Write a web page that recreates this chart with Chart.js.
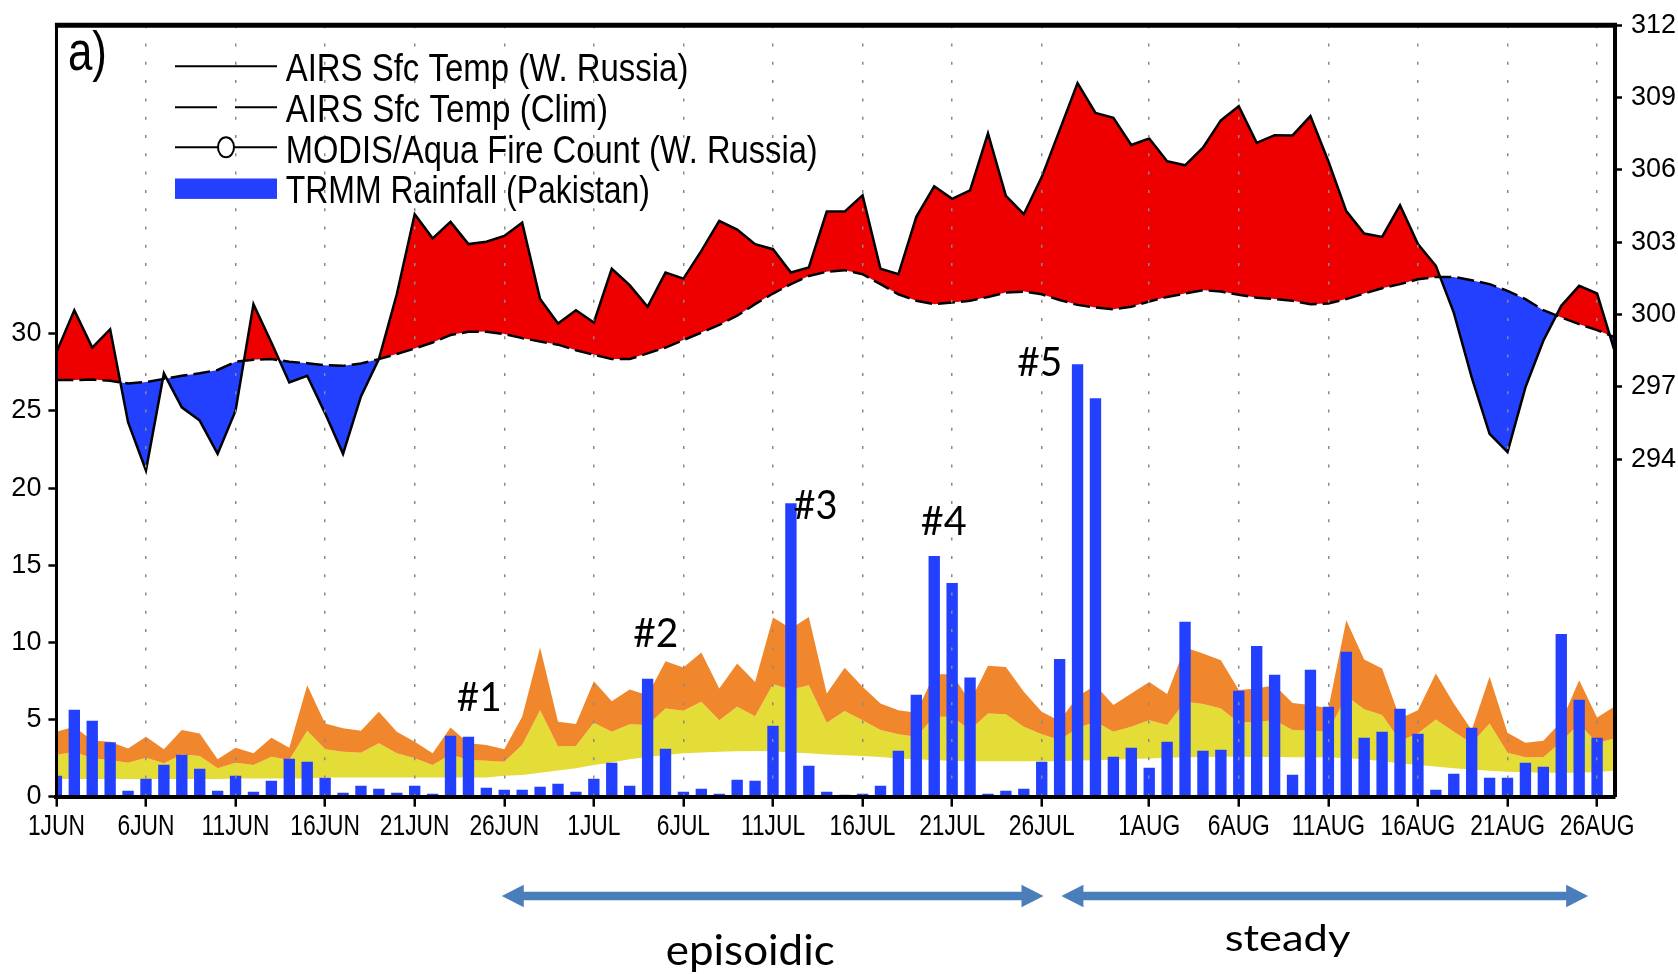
<!DOCTYPE html>
<html>
<head>
<meta charset="utf-8">
<script src="https://cdn.jsdelivr.net/npm/chart.js@4.4.1/dist/chart.umd.min.js"></script>
<style>
html,body{margin:0;padding:0;background:#fff;}
#wrap{width:1678px;height:974px;position:relative;}
</style>
</head>
<body>
<div id="wrap"><canvas id="c" width="1678" height="974"></canvas></div>
<script>
// ---------- DATA ----------
const categories = [
 '1JUN','2JUN','3JUN','4JUN','5JUN','6JUN','7JUN','8JUN','9JUN','10JUN',
 '11JUN','12JUN','13JUN','14JUN','15JUN','16JUN','17JUN','18JUN','19JUN','20JUN',
 '21JUN','22JUN','23JUN','24JUN','25JUN','26JUN','27JUN','28JUN','29JUN','30JUN',
 '1JUL','2JUL','3JUL','4JUL','5JUL','6JUL','7JUL','8JUL','9JUL','10JUL',
 '11JUL','12JUL','13JUL','14JUL','15JUL','16JUL','17JUL','18JUL','19JUL','20JUL',
 '21JUL','22JUL','23JUL','24JUL','25JUL','26JUL','27JUL','28JUL','29JUL','30JUL','31JUL',
 '1AUG','2AUG','3AUG','4AUG','5AUG','6AUG','7AUG','8AUG','9AUG','10AUG',
 '11AUG','12AUG','13AUG','14AUG','15AUG','16AUG','17AUG','18AUG','19AUG','20AUG',
 '21AUG','22AUG','23AUG','24AUG','25AUG','26AUG','27AUG'
];
const tickDays = [1, 6, 11, 16, 21, 26];

// AIRS surface temperature, W. Russia (K)
const tempRussia = [
 298.43,300.18,298.63,299.39,295.53,293.53,297.56,296.15,295.60,294.22,
 296.01,300.43,298.84,297.18,297.46,295.90,294.22,296.60,298.15,300.84,
 304.16,303.16,303.84,302.92,303.02,303.26,303.81,300.64,299.63,300.18,
 299.67,301.90,301.22,300.32,301.74,301.49,302.64,303.88,303.52,302.92,
 302.71,301.74,301.95,304.27,304.27,304.94,301.90,301.67,304.05,305.32,
 304.80,305.15,307.51,304.92,304.16,305.70,307.65,309.60,308.36,308.16,
 307.03,307.30,306.36,306.19,306.92,308.05,308.64,307.12,307.44,307.43,
 308.23,306.36,304.29,303.36,303.22,304.53,302.92,302.02,300.08,297.39,
 295.05,294.29,296.98,298.91,300.36,301.19,300.87,298.43
];
// AIRS surface temperature climatology (K)
const tempClim = [
 297.28,297.28,297.30,297.25,297.14,297.20,297.33,297.46,297.56,297.70,
 298.04,298.12,298.15,298.04,297.98,297.90,297.87,297.97,298.15,298.36,
 298.59,298.84,299.15,299.28,299.28,299.19,299.02,298.88,298.75,298.52,
 298.33,298.15,298.15,298.39,298.63,298.94,299.25,299.57,299.95,300.43,
 300.87,301.26,301.60,301.77,301.84,301.67,301.26,300.84,300.57,300.43,
 300.50,300.57,300.73,300.91,300.95,300.84,300.60,300.40,300.29,300.22,
 300.32,300.54,300.73,300.87,301.01,300.95,300.82,300.70,300.64,300.57,
 300.43,300.46,300.64,300.87,301.09,301.26,301.46,301.56,301.56,301.42,
 301.26,300.98,300.64,300.18,299.88,299.60,299.35,299.05
];
// MODIS/Aqua fire count (W. Russia), shaded bands: lower edge, yellow top, orange top
const fireLow = [
 1.15,1.15,1.15,1.15,1.15,1.15,1.15,1.15,1.15,1.15,
 1.18,1.18,1.18,1.18,1.18,1.24,1.24,1.24,1.24,1.24,
 1.24,1.24,1.24,1.24,1.24,1.36,1.40,1.55,1.70,1.84,
 2.05,2.22,2.42,2.57,2.70,2.81,2.87,2.92,2.94,2.96,
 2.94,2.87,2.81,2.74,2.68,2.63,2.57,2.48,2.42,2.37,
 2.33,2.29,2.30,2.30,2.30,2.30,2.30,2.35,2.37,2.40,
 2.44,2.48,2.52,2.55,2.57,2.59,2.59,2.58,2.57,2.56,
 2.55,2.55,2.50,2.42,2.30,2.17,2.05,1.95,1.84,1.76,
 1.68,1.62,1.58,1.55,1.55,1.55,1.60,1.68
];
const fireMid = [
 2.70,2.91,2.49,2.38,2.20,2.52,2.16,2.74,2.63,1.84,
 2.20,2.05,2.59,2.38,4.27,3.07,2.91,2.85,3.46,2.81,
 2.49,2.05,2.74,2.38,2.33,2.27,3.35,5.61,3.26,3.28,
 4.79,4.21,4.69,4.64,5.72,5.57,6.15,4.96,5.83,5.22,
 7.28,6.95,7.23,4.79,5.55,4.96,4.32,4.04,3.88,5.18,
 5.18,4.32,5.40,5.35,4.53,4.04,3.67,4.45,4.85,4.21,
 4.53,4.96,4.64,6.15,6.00,5.72,4.79,4.85,4.96,4.32,
 4.27,4.21,6.52,5.66,5.29,3.62,4.10,5.01,4.21,3.46,
 4.75,2.85,2.55,2.55,3.56,4.75,3.46,3.78
];
const fireHigh = [
 4.21,4.53,3.65,3.56,3.13,3.88,3.07,4.32,4.10,2.42,
 3.17,2.81,3.82,3.17,7.23,4.75,4.43,4.27,5.50,4.21,
 3.56,2.81,4.49,3.46,3.35,3.07,5.18,9.67,4.85,4.71,
 7.49,6.19,6.95,6.58,8.78,8.37,9.35,7.02,8.63,7.44,
 11.61,10.90,11.65,6.69,8.35,7.12,6.04,5.61,5.44,7.94,
 7.94,6.15,8.48,8.41,6.80,5.50,4.90,6.50,7.23,5.94,
 6.69,7.44,6.65,9.67,9.28,8.85,6.91,7.02,7.23,6.08,
 5.94,5.72,11.44,8.89,8.31,5.07,5.61,7.99,6.04,4.32,
 7.77,4.14,3.50,3.62,4.85,7.55,5.14,5.87
];
// TRMM rainfall, Pakistan
const rainPakistan = [
 1.34,5.61,4.90,3.50,0.37,1.15,2.05,2.70,1.79,0.37,
 1.34,0.30,1.02,2.44,2.25,1.21,0.24,0.69,0.50,0.24,
 0.69,0.17,3.93,3.86,0.56,0.43,0.43,0.63,0.82,0.30,
 1.15,2.18,0.69,7.62,3.09,0.30,0.50,0.17,1.08,1.02,
 4.58,18.99,1.99,0.30,0.11,0.17,0.69,2.96,6.58,15.58,
 13.83,7.70,0.17,0.37,0.50,2.25,8.91,28.00,25.80,2.57,
 3.15,1.86,3.54,11.31,2.96,3.02,6.84,9.75,7.88,1.40,
 8.20,5.81,9.37,3.80,4.19,5.68,4.06,0.43,1.47,4.45,
 1.21,1.21,2.18,1.92,10.53,6.26,3.80,0
];
const leftTicks = [0, 5, 10, 15, 20, 25, 30];
const rightTicks = [294, 297, 300, 303, 306, 309, 312];

const legendLabels = [
 'AIRS Sfc Temp (W. Russia)',
 'AIRS Sfc Temp (Clim)',
 'MODIS/Aqua Fire Count (W. Russia)',
 'TRMM Rainfall (Pakistan)'
];
const eventLabels = ['#1', '#2', '#3', '#4', '#5'];
const eventDays   = [23.61, 33.45, 42.37, 49.53, 54.89];
const eventValues = [5.57, 9.71, 18.02, 16.94, 27.29];
const phaseLabels = ['episoidic', 'steady'];
const phaseFrom   = [24.86, 56.1];
const phaseTo     = [55.1, 85.5];
const phaseCenter = [38.73, 68.72];

// ---------- STYLE ----------
const RED = '#ee0000';
const BLUE = '#2340ff';
const ORANGE = '#f0872d';
const YELLOW = '#e4dc37';
const ARROW = '#4a7ebb';
const GRADS_FONT = "'Liberation Sans', Arial, sans-serif";
const NOTE_FONT = "Lato, 'Open Sans', sans-serif";

function isTickIndex(i) {
  const lab = categories[i];
  if (!lab) return false;
  return tickDays.indexOf(parseInt(lab, 10)) >= 0;
}

function drawScaled(ctx, text, x, y, sx, font, align) {
  ctx.save();
  ctx.font = font;
  const w = ctx.measureText(text).width * sx;
  const x0 = align === 'center' ? x - w / 2 : x;
  ctx.translate(x0, y);
  ctx.scale(sx, 1);
  ctx.textAlign = 'left';
  ctx.textBaseline = 'alphabetic';
  ctx.fillStyle = '#000';
  ctx.fillText(text, 0, 0);
  ctx.restore();
}

function fitText(ctx, text, x, y, width, font, align) {
  ctx.save();
  ctx.font = font;
  const w = ctx.measureText(text).width;
  ctx.restore();
  drawScaled(ctx, text, x, y, width / w, font, align);
}

const annotations = {
  id: 'annotations',
  afterDraw(chart) {
    const ctx = chart.ctx;
    const ca = chart.chartArea;
    const xs = chart.scales.x;
    const ys = chart.scales.y;

    // top frame line
    ctx.save();
    ctx.strokeStyle = '#000';
    ctx.lineWidth = 5;
    ctx.beginPath();
    ctx.moveTo(ca.left - 1.5, ca.top);
    ctx.lineTo(ca.right + 2, ca.top);
    ctx.stroke();
    ctx.restore();

    // x-axis date labels (narrow plot font)
    for (let i = 0; i < categories.length; i++) {
      if (!isTickIndex(i)) continue;
      drawScaled(ctx, categories[i], xs.getPixelForValue(i), ca.bottom + 38.3, 0.76, '30px ' + GRADS_FONT, 'center');
    }

    // panel label
    fitText(ctx, 'a)', ca.left + 11.5, ca.top + 45, 39, '55px ' + GRADS_FONT, 'left');

    // legend
    const sx0 = ca.left + 118.6, sx1 = ca.left + 220.6;
    const tx = ca.left + 229.3;
    const rows = [ca.top + 41, ca.top + 82, ca.top + 122, ca.top + 163.5];
    const bases = [ca.top + 56, ca.top + 96.5, ca.top + 137.5, ca.top + 177.7];
    const widths = [402.7, 322.3, 532, 364.3];
    ctx.save();
    ctx.strokeStyle = '#000';
    ctx.lineWidth = 2;
    ctx.beginPath(); ctx.moveTo(sx0, rows[0]); ctx.lineTo(sx1, rows[0]); ctx.stroke();
    ctx.beginPath(); ctx.moveTo(sx0, rows[1]); ctx.lineTo(sx0 + 42, rows[1]);
    ctx.moveTo(sx1 - 42, rows[1]); ctx.lineTo(sx1, rows[1]); ctx.stroke();
    ctx.beginPath(); ctx.moveTo(sx0, rows[2]); ctx.lineTo(sx1, rows[2]); ctx.stroke();
    ctx.beginPath(); ctx.ellipse((sx0 + sx1) / 2, rows[2], 8, 10, 0, 0, Math.PI * 2);
    ctx.fillStyle = '#fff'; ctx.fill(); ctx.stroke();
    ctx.fillStyle = BLUE;
    ctx.fillRect(sx0, rows[3] - 10.2, sx1 - sx0, 20.4);
    ctx.restore();
    for (let i = 0; i < legendLabels.length; i++) {
      fitText(ctx, legendLabels[i], tx, bases[i], widths[i], '39px ' + GRADS_FONT, 'left');
    }

    // event labels (#1..#5)
    const evW = [45, 45, 44, 46, 45];
    for (let i = 0; i < eventLabels.length; i++) {
      fitText(ctx, eventLabels[i], xs.getPixelForValue(eventDays[i]), ys.getPixelForValue(eventValues[i]),
              evW[i], '41px ' + NOTE_FONT, 'center');
    }

    // phase arrows
    const ay = ca.bottom + 99.3;
    ctx.save();
    ctx.fillStyle = ARROW;
    for (let i = 0; i < phaseLabels.length; i++) {
      const a = xs.getPixelForValue(phaseFrom[i]);
      const b = xs.getPixelForValue(phaseTo[i]);
      const hl = 22, hh = 11.2, sh = 4.2;
      ctx.beginPath();
      ctx.moveTo(a, ay);
      ctx.lineTo(a + hl, ay - hh);
      ctx.lineTo(a + hl, ay - sh);
      ctx.lineTo(b - hl, ay - sh);
      ctx.lineTo(b - hl, ay - hh);
      ctx.lineTo(b, ay);
      ctx.lineTo(b - hl, ay + hh);
      ctx.lineTo(b - hl, ay + sh);
      ctx.lineTo(a + hl, ay + sh);
      ctx.lineTo(a + hl, ay + hh);
      ctx.closePath();
      ctx.fill();
    }
    ctx.restore();
    fitText(ctx, phaseLabels[0], xs.getPixelForValue(phaseCenter[0]), ca.bottom + 168.3, 169, '43px ' + NOTE_FONT, 'center');
    fitText(ctx, phaseLabels[1], xs.getPixelForValue(phaseCenter[1]), ca.bottom + 153.8, 125.7, '36px ' + NOTE_FONT, 'center');
  }
};

new Chart(document.getElementById('c'), {
  type: 'bar',
  data: {
    labels: categories,
    datasets: [
      { type: 'bar', label: legendLabels[3], data: rainPakistan, yAxisID: 'y',
        backgroundColor: BLUE, borderWidth: 0, barThickness: 10.7 },
      { type: 'line', label: legendLabels[1], data: tempClim, yAxisID: 'y2',
        borderColor: '#000', borderWidth: 2.5, borderDash: [17, 6], pointRadius: 0,
        pointHoverRadius: 0, tension: 0, fill: false },
      { type: 'line', label: legendLabels[0], data: tempRussia, yAxisID: 'y2',
        borderColor: '#000', borderWidth: 2.5, pointRadius: 0, pointHoverRadius: 0, tension: 0,
        fill: { target: '-1', above: RED, below: BLUE } },
      { type: 'line', label: 'fire high', data: fireHigh, yAxisID: 'y',
        borderColor: 'transparent', borderWidth: 0, pointRadius: 0, pointHoverRadius: 0, tension: 0,
        fill: { target: '+1', above: ORANGE, below: ORANGE } },
      { type: 'line', label: 'fire mid', data: fireMid, yAxisID: 'y',
        borderColor: 'transparent', borderWidth: 0, pointRadius: 0, pointHoverRadius: 0, tension: 0,
        fill: { target: '+1', above: YELLOW, below: YELLOW } },
      { type: 'line', label: 'fire low', data: fireLow, yAxisID: 'y',
        borderColor: 'transparent', borderWidth: 0, pointRadius: 0, pointHoverRadius: 0, tension: 0,
        fill: false }
    ]
  },
  options: {
    responsive: false,
    devicePixelRatio: 1,
    animation: false,
    layout: { padding: { top: 24, left: 0, right: 0, bottom: 127.3 } },
    plugins: { legend: { display: false }, tooltip: { enabled: false } },
    scales: {
      x: {
        type: 'category',
        offset: false,
        grid: {
          offset: false, z: 1, drawOnChartArea: true,
          color: (c) => isTickIndex(c.index) ? '#8a8a8a' : 'rgba(0,0,0,0)',
          lineWidth: 1.5,
          drawTicks: true, tickLength: 10, tickWidth: 2.5,
          tickColor: (c) => isTickIndex(c.index) ? '#000' : 'rgba(0,0,0,0)',
          tickBorderDash: []
        },
        border: { display: true, color: '#000', width: 4, dash: [3, 15.3], z: 1 },
        ticks: { display: false, autoSkip: false, maxRotation: 0, minRotation: 0 },
        afterFit: (s) => { s.height = 50; }
      },
      y: {
        position: 'left', min: 0, max: 50,
        afterBuildTicks: (s) => { s.ticks = leftTicks.map(v => ({ value: v })); },
        grid: { drawOnChartArea: false, drawTicks: true, tickLength: 8, tickWidth: 2.5, tickColor: '#000' },
        border: { display: true, color: '#000', width: 3, z: 1 },
        ticks: { padding: 7, color: '#000', font: { family: GRADS_FONT, size: 27 } },
        afterFit: (s) => { s.width = 56.4; }
      },
      y2: {
        position: 'right', min: 280, max: 312,
        afterBuildTicks: (s) => { s.ticks = rightTicks.map(v => ({ value: v })); },
        grid: { drawOnChartArea: false, drawTicks: true, tickLength: 7, tickWidth: 2.5, tickColor: '#000' },
        border: { display: true, color: '#000', width: 4, z: 1 },
        ticks: { padding: 9, color: '#000', font: { family: GRADS_FONT, size: 27 } },
        afterFit: (s) => { s.width = 63; }
      }
    }
  },
  plugins: [annotations]
});
</script>
</body>
</html>
